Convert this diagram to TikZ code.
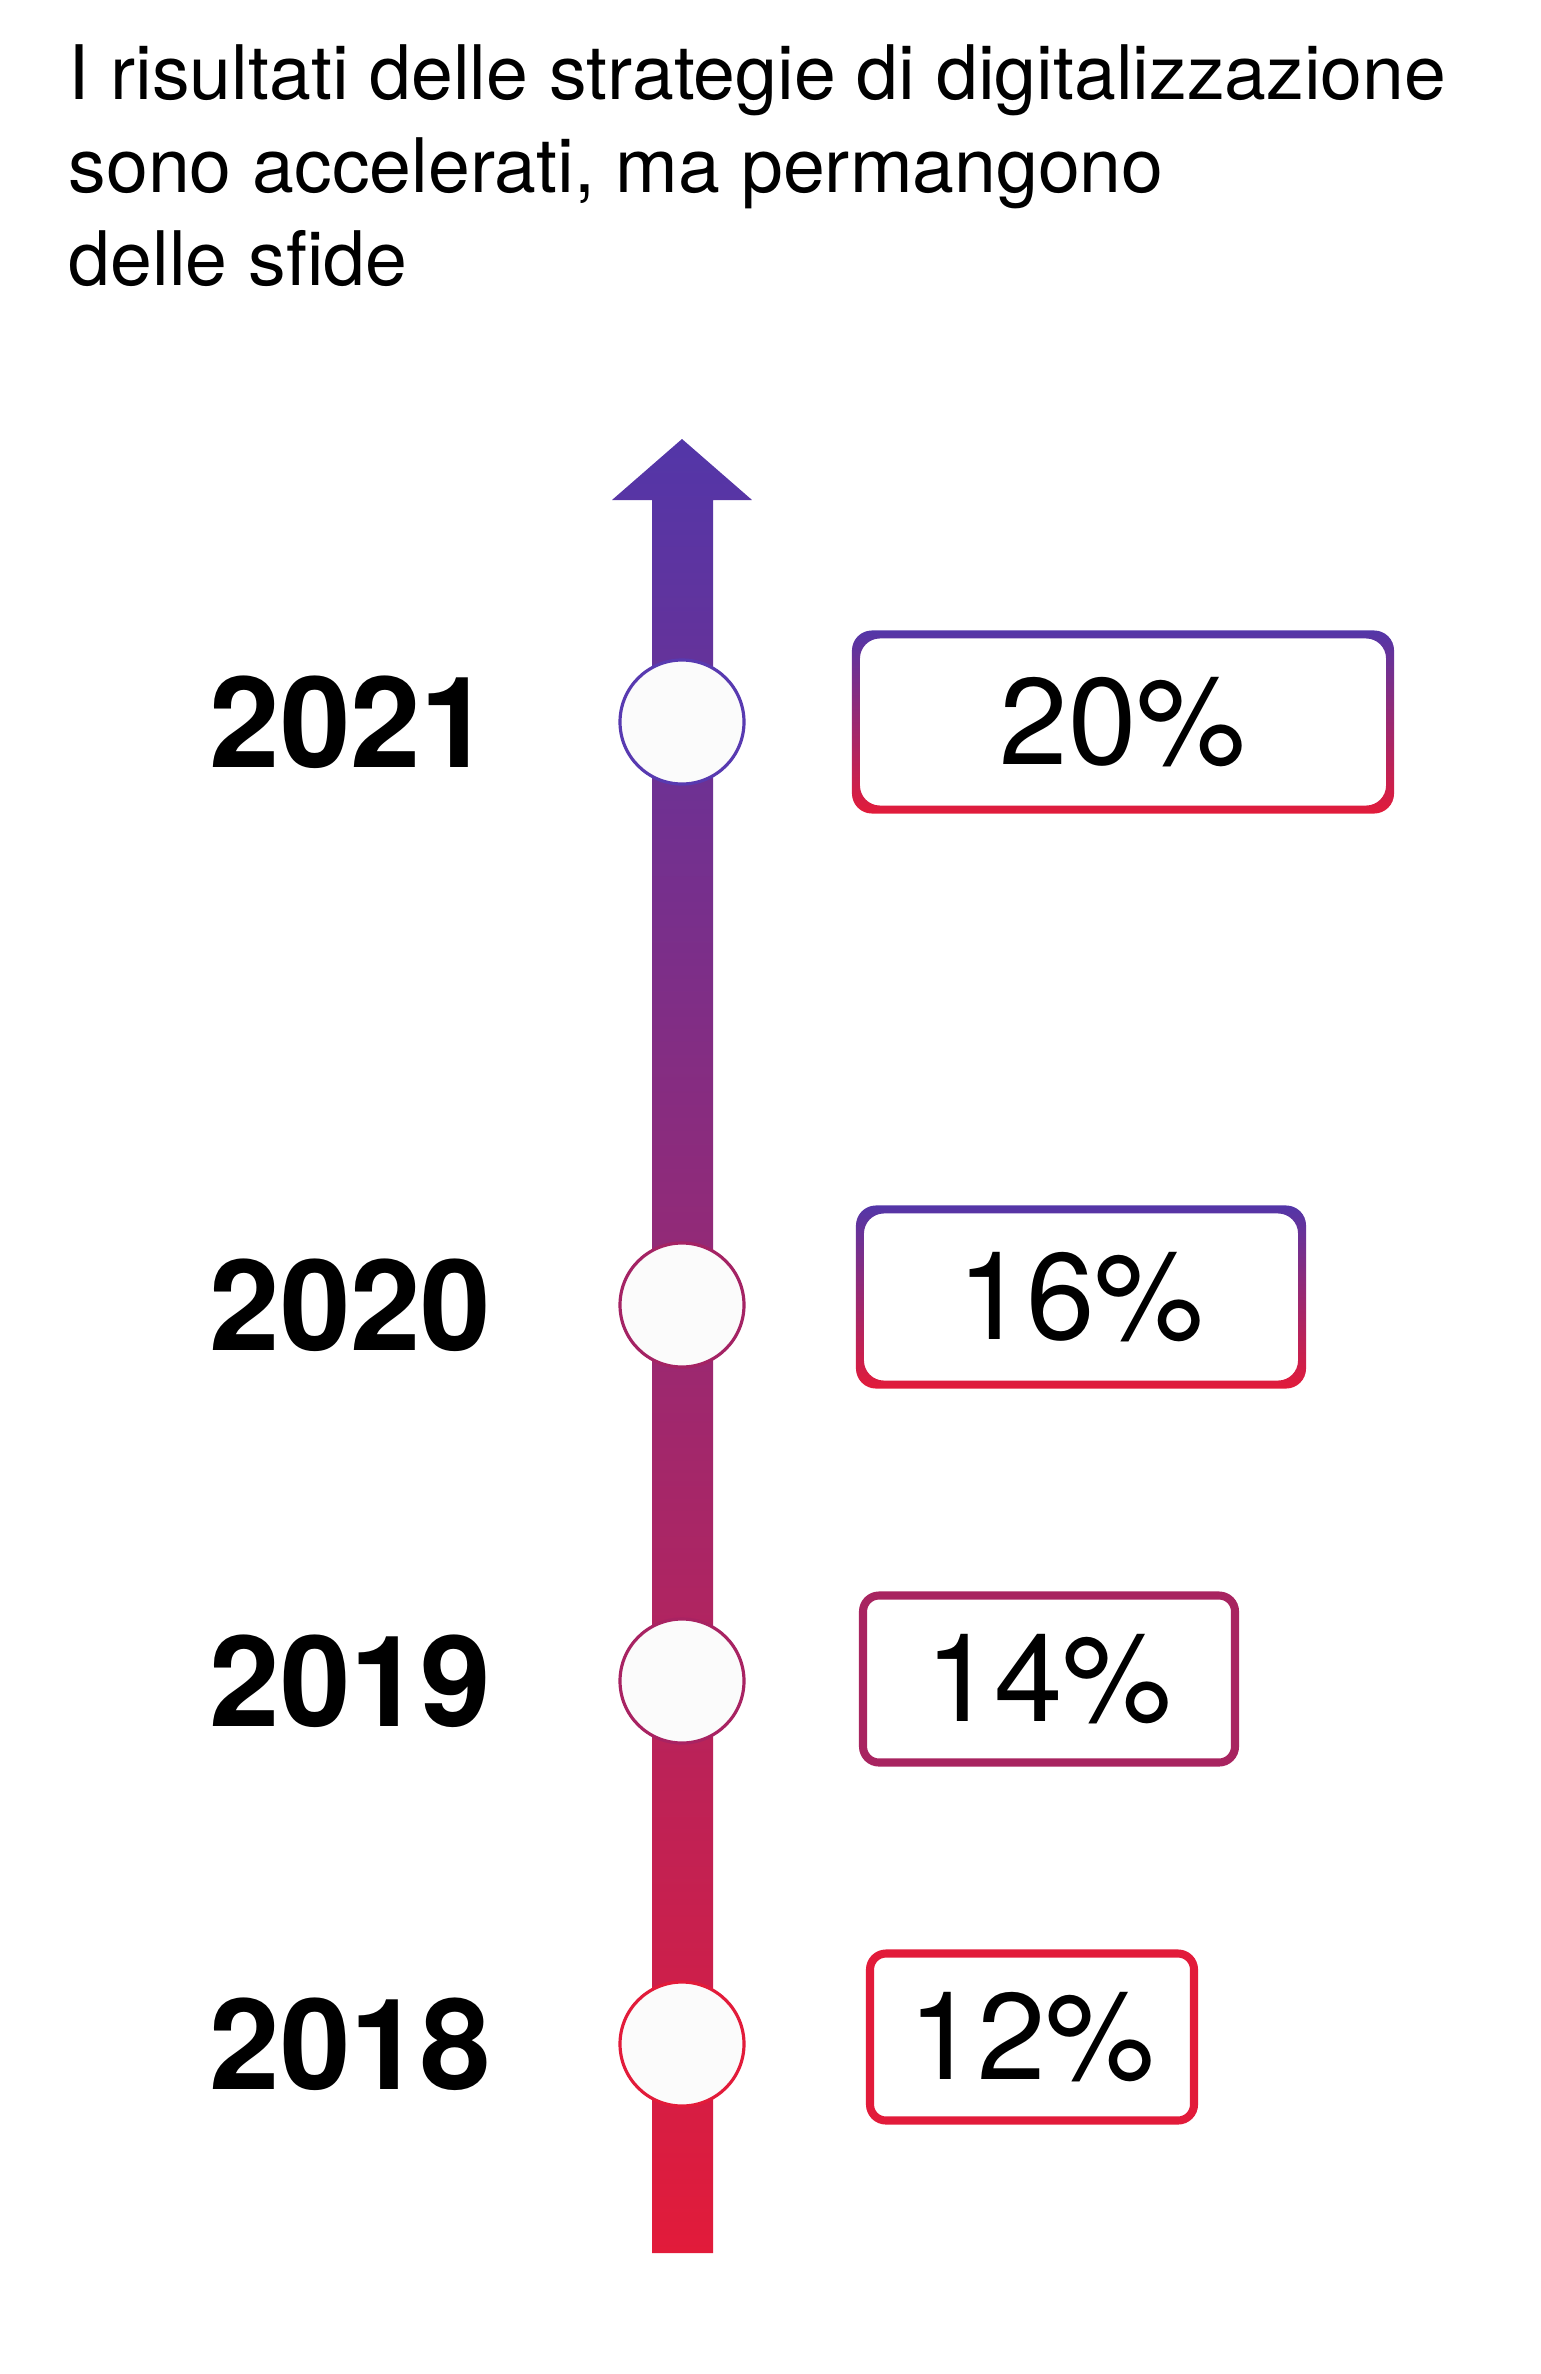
\documentclass[tikz,border=0pt]{standalone}
\usepackage{fontspec}
\setmainfont{TeX Gyre Heros}
\definecolor{tlpurple}{RGB}{83,54,168}
\definecolor{tlmagenta}{RGB}{170,35,95}
\definecolor{tlred}{RGB}{226,27,58}
\definecolor{dotfill}{RGB}{251,251,251}

\begin{document}
\begin{tikzpicture}[x=0.1mm, y=-0.1mm,
  dot/.style={circle, fill=dotfill, line width=0.9pt, minimum size=12.4mm, inner sep=0pt},
  year/.style={anchor=west, inner sep=0pt, font=\fontsize{36}{40}\selectfont\bfseries},
  pctbox/.style={rounded corners=1.6mm, line width=2.3pt, inner sep=0pt,
    minimum height=16.7mm, font=\fontsize{35}{40}\selectfont},
  frame/.style={top color=tlpurple, bottom color=tlred, even odd rule, rounded corners=2mm}]
\useasboundingbox (0,0) rectangle (1540,2374);%
% title
\node[anchor=north west, inner sep=0pt, align=left,
  font=\fontsize{21.4}{26.4}\selectfont] (title) at (68,44)
  {I risultati delle strategie di digitalizzazione\\sono accelerati, ma permangono\\delle sfide};%
% timeline arrow
\shade[top color=tlpurple, middle color=tlmagenta, bottom color=tlred]
  (652,2253) -- (652,500) -- (612,500) -- (682,439) -- (752,500) -- (713,500) -- (713,2253) -- cycle;%
% points on the timeline
\node[dot, draw={rgb,255:red,88;green,58;blue,176}] (d21) at (682,722) {};%
\node[dot, draw={rgb,255:red,164;green,35;blue,100}] (d20) at (682,1305) {};%
\node[dot, draw={rgb,255:red,168;green,35;blue,98}] (d19) at (682,1681) {};%
\node[dot, draw=tlred] (d18) at (682,2044) {};%
% years
\node[year] (y21) at (209,722) {2021};%
\node[year] (y20) at (209,1305) {2020};%
\node[year] (y19) at (209,1681) {2019};%
\node[year] (y18) at (209,2044) {2018};%
% values
\node[pctbox, minimum width=52.6mm] (p21) at (1123,722) {20\%};%
\node[pctbox, minimum width=43.4mm] (p20) at (1081,1297) {16\%};%
\node[pctbox, minimum width=37.2mm, draw={rgb,255:red,168;green,36;blue,96}] (p19) at (1049,1679) {14\%};%
\node[pctbox, minimum width=32.4mm, draw=tlred] (p18) at (1032,2037) {12\%};%
\shade[frame] ([shift={(-4,-4)}]p21.north west) rectangle ([shift={(4,4)}]p21.south east)
  ([shift={(4,4)}]p21.north west) rectangle ([shift={(-4,-4)}]p21.south east);%
\shade[frame] ([shift={(-4,-4)}]p20.north west) rectangle ([shift={(4,4)}]p20.south east)
  ([shift={(4,4)}]p20.north west) rectangle ([shift={(-4,-4)}]p20.south east);%
\end{tikzpicture}
\end{document}
